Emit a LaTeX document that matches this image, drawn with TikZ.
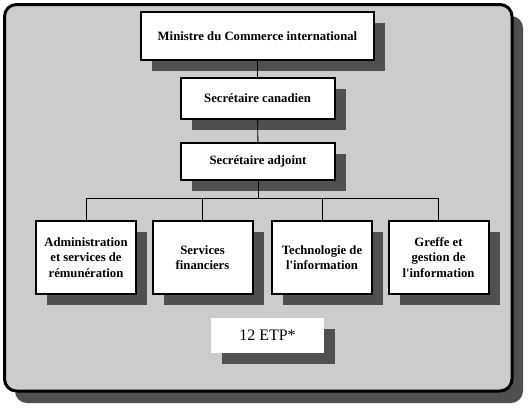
\documentclass[tikz,border=0pt]{standalone}
\usepackage{fontspec}
\setmainfont{Liberation Serif}
\usetikzlibrary{shadows,positioning}
\definecolor{panelgray}{RGB}{204,204,204}
\definecolor{shadegray}{RGB}{80,80,80}

\begin{document}
\begin{tikzpicture}[x=1pt,y=-1pt,
  box/.style={draw,line width=2pt,fill=white,align=center,inner sep=0pt,
    font=\bfseries\fontsize{12.7}{15.6}\selectfont,
    general shadow={fill=shadegray,shadow xshift=11pt,shadow yshift=-11pt}},
  link/.style={line width=0.9pt}]
\useasboundingbox (0,0) rectangle (529,408);
\fill[white] (0,0) rectangle (529,408);
% outer frame with its shadow
\fill[shadegray,rounded corners=12pt] (15,16) rectangle (523,403);
\draw[line width=3pt,fill=panelgray,rounded corners=12pt] (4.5,4.5) rectangle (512,391);

\node[box,minimum width=233pt,minimum height=48pt] (minister) at (257.5,36) {Ministre du Commerce international};
\node[box,minimum width=154pt,minimum height=41pt] (canadian) at (257.5,98.5) {Secrétaire canadien};
\node[box,minimum width=154pt,minimum height=37pt] (adjoint) at (258,161.5) {Secrétaire adjoint};
\coordinate (bus) at (258,198.5);

\draw[link] (minister) -- (canadian);
\draw[link] (canadian) -- (adjoint);
\draw[link] (adjoint) -- (bus);

\foreach \name/\x/\txt in {admin/86/{Administration\\et services de\\rémunération},
    fin/202.5/{Services\\financiers},
    tech/322/{Technologie de\\l\textquotesingle information},
    greffe/438.5/{Greffe et\\gestion de\\l\textquotesingle information}}{
  \node[box,minimum width=100pt,minimum height=73pt] (\name) at (\x,257.5) {\txt};
  \draw[link] (bus) -| (\name.north);
}

\node[box,draw=none,minimum width=113pt,minimum height=35pt,
  font=\fontsize{16}{19}\selectfont] (etp) at (267.5,335.5) {12 ETP*};
\end{tikzpicture}
\end{document}
